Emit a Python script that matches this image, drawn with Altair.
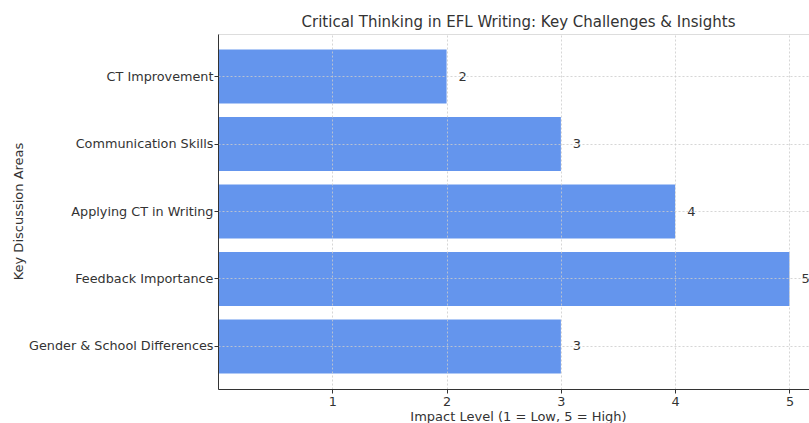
import altair as alt
import pandas as pd

categories = ["CT Improvement", "Communication Skills", "Applying CT in Writing",
              "Feedback Importance", "Gender & School Differences"]
impact = [2, 3, 4, 5, 3]

df = pd.DataFrame({"area": categories, "impact": impact})

FONT = "DejaVu Sans"

x_enc = alt.X("impact:Q",
              scale=alt.Scale(domain=[0, 5.171], nice=False, zero=True),
              axis=alt.Axis(values=[1, 2, 3, 4, 5], format="d",
                            title="Impact Level (1 = Low, 5 = High)",
                            grid=True, gridDash=[2, 2], gridColor="#cccccc", gridOpacity=0.8,
                            domainColor="#333333", tickColor="#333333", tickSize=4,
                            labelColor="#333333", labelFontSize=12.8, labelFont=FONT, labelPadding=2,
                            titleFont=FONT, titleFontSize=13, titleFontWeight="normal",
                            titleColor="#333333", titleX=300, titleY=21, titleBaseline="top",
                            zindex=1))
y_enc = alt.Y("area:N", sort=categories,
              scale=alt.Scale(paddingInner=0.2, paddingOuter=0.23),
              axis=alt.Axis(title="Key Discussion Areas", grid=True, gridDash=[2, 2],
                            gridColor="#cccccc", gridOpacity=0.8, bandPosition=0.5,
                            domainColor="#333333", tickColor="#333333", tickSize=4,
                            labelColor="#333333", labelFontSize=12.8, labelFont=FONT,
                            labelPadding=1, labelLimit=300,
                            titleFont=FONT, titleFontSize=13, titleFontWeight="normal",
                            titleColor="#333333", titleX=-200, titleY=177,
                            titleBaseline="middle", titleAngle=270, zindex=1))

bars = alt.Chart(df).mark_bar(color="#6495ED").encode(x=x_enc, y=y_enc)
labels = alt.Chart(df).mark_text(align="left", baseline="middle", dx=12, fontSize=13,
                                 font=FONT, color="#333333").encode(
    x=alt.X("impact:Q"), y=alt.Y("area:N", sort=categories), text="impact:Q")

chart = (bars + labels).properties(
    width=591, height=355,
    title=alt.Title("Critical Thinking in EFL Writing: Key Challenges & Insights",
                    font=FONT, fontSize=15, fontWeight="normal", color="#333333",
                    anchor="middle", dx=5, offset=4),
    autosize=alt.AutoSizeParams(type="none"),
    padding={"left": 218, "top": 34, "right": 0, "bottom": 34},
).configure_view(stroke=None).configure(background="white")

chart.save("out.html", embed_options={"renderer": "svg", "actions": False})
